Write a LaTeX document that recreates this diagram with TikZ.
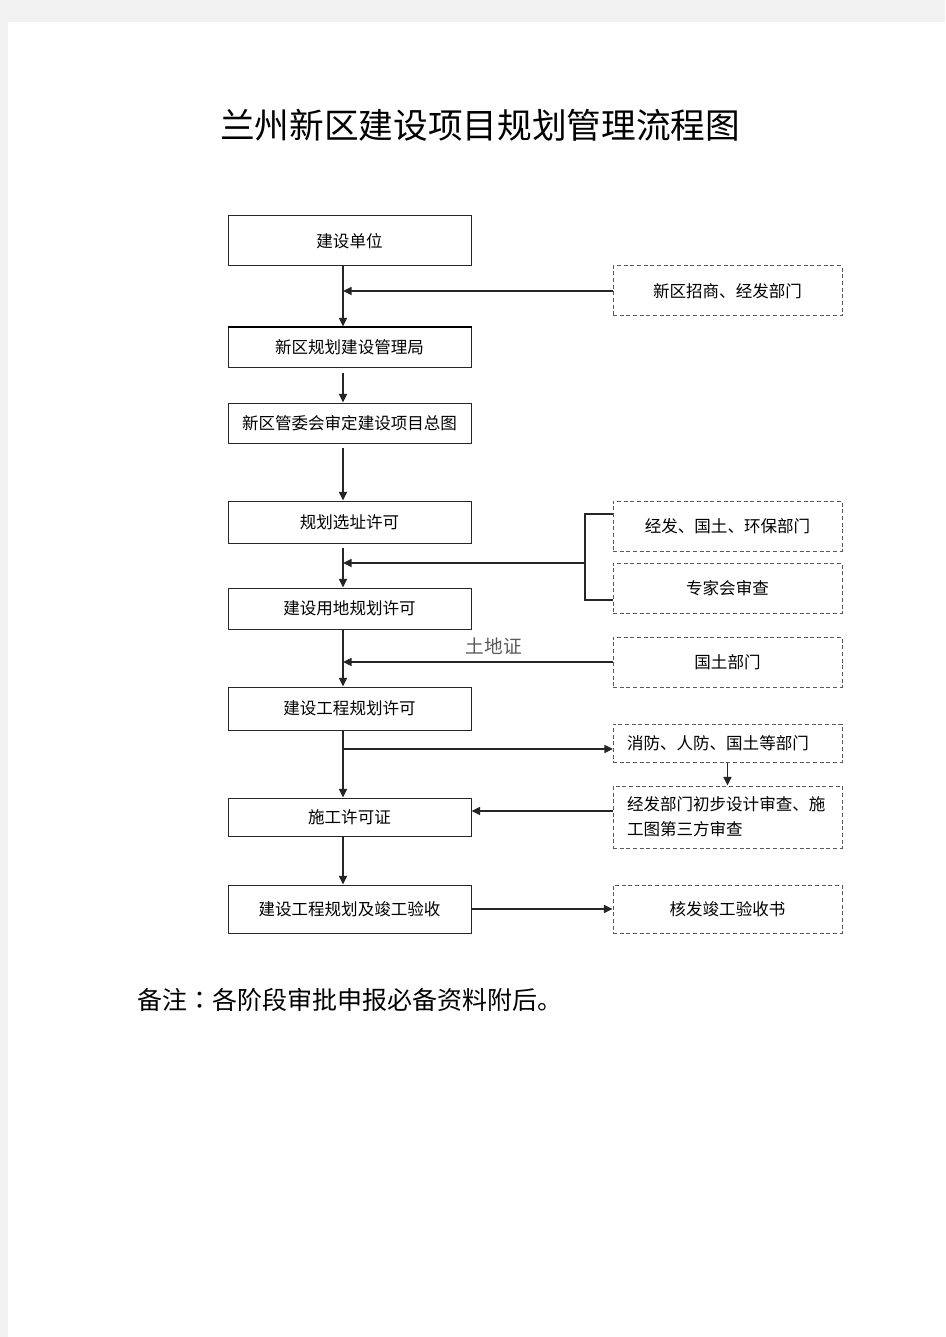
\documentclass[tikz,border=0pt]{standalone}
\usepackage{fontspec}
\setmainfont{Noto Sans CJK SC}
\newfontfamily\jpfont{Noto Sans CJK JP}
\usetikzlibrary{arrows.meta,calc}

\begin{document}
\begin{tikzpicture}[x=0.75pt, y=-0.75pt,
  boxfont/.style={font=\fontsize{12.4}{18.75}\selectfont},
  mainbox/.style={draw=black!85, line width=0.75pt, minimum width=182.25pt, inner sep=0pt, boxfont},
  sidebox/.style={draw=black!65, dash pattern=on 3pt off 2pt, line width=0.75pt, minimum width=171.75pt, inner sep=0pt, boxfont},
  leftbox/.style={sidebox, inner xsep=10.5pt, text width=150.75pt, align=left},
  flow/.style={line width=1.2pt, draw=black!85, -{Triangle[length=6.5pt,width=6pt]}},
  tie/.style={line width=1pt, draw=black!85}]

\useasboundingbox (0,0) rectangle (945,1337);
\fill [black!5] (0,0) rectangle (945,1337);
\fill [white] (8,22) rectangle (945,1337);

\node (title) at (480,125) {\fontsize{26}{30}\selectfont 兰州新区建设项目规划管理流程图};

\node [mainbox, minimum height=37.5pt] (b1) at (349.5,241) {建设单位};
\node [mainbox, minimum height=30pt] (b2) at (349.5,347) {新区规划建设管理局};
\node [mainbox, minimum height=30pt] (b3) at (349.5,423) {新区管委会审定建设项目总图};
\node [mainbox, minimum height=31.5pt] (b4) at (349.5,522) {规划选址许可};
\node [mainbox, minimum height=30.75pt] (b5) at (349.5,608.5) {建设用地规划许可};
\node [mainbox, minimum height=32.25pt] (b6) at (349.5,708.5) {建设工程规划许可};
\node [mainbox, minimum height=28.5pt] (b7) at (349.5,817) {施工许可证};
\node [mainbox, minimum height=36pt] (b8) at (349.5,909) {建设工程规划及竣工验收};
\draw [line width=1.5pt] (b2.north west) -- (b2.north east);

\node [sidebox, minimum height=37.5pt] (r1) at (727.5,291) {新区招商、经发部门};
\node [sidebox, minimum height=37.5pt] (r2) at (727.5,526) {经发、国土、环保部门};
\node [sidebox, minimum height=37.5pt] (r3) at (727.5,588) {专家会审查};
\node [sidebox, minimum height=37.5pt] (r4) at (727.5,662) {国土部门};
\node [leftbox, minimum height=28.5pt] (r5) at (727.5,743) {消防、人防、国土等部门};
\node [leftbox, minimum height=46.5pt] (r6) at (727.5,817) {经发部门初步设计审查、施\\工图第三方审查};
\node [sidebox, minimum height=36pt] (r7) at (727.5,909) {核发竣工验收书};

\coordinate (trunk) at (343,0);
\coordinate (fork) at (585,563);
\coordinate (r2tie) at (613,514);
\coordinate (r3tie) at (613,600);
\coordinate (r5in) at (613,749);
\coordinate (r6out) at (613,811);

\draw [flow] (trunk |- b1.south) -- (trunk |- b2.north);
\draw [flow] (r1.west) -- (r1.west -| trunk);
\draw [flow, shorten <=3.75pt] (trunk |- b2.south) -- (trunk |- b3.north);
\draw [flow, shorten <=3pt] (trunk |- b3.south) -- (trunk |- b4.north);
\draw [flow, shorten <=3pt] (trunk |- b4.south) -- (trunk |- b5.north);
\draw [tie] (r2tie) -| (fork) |- (r3tie);
\draw [flow] (fork) -- (fork -| trunk);
\draw [flow] (trunk |- b5.south) -- (trunk |- b6.north);
\draw [flow] (r4.west) -- (r4.west -| trunk) node [pos=0.44, above=2pt, text=black!65, font=\fontsize{14}{16}\selectfont] (deed) {土地证};
\draw [flow] (trunk |- b6.south) -- (trunk |- b7.north);
\draw [flow] (trunk |- r5in) -- (r5in);
\draw [flow] (r5.south) -- (r6.north);
\draw [flow] (r6out) -- (r6out -| b7.east);
\draw [flow] (trunk |- b7.south) -- (trunk |- b8.north);
\draw [flow] (b8.east) -- (r7.west);

\node [anchor=west, font=\fontsize{18.75}{22}\selectfont] (remark) at (133,1000) {备注{\jpfont ：}各阶段审批申报必备资料附后。};
\end{tikzpicture}
\end{document}
